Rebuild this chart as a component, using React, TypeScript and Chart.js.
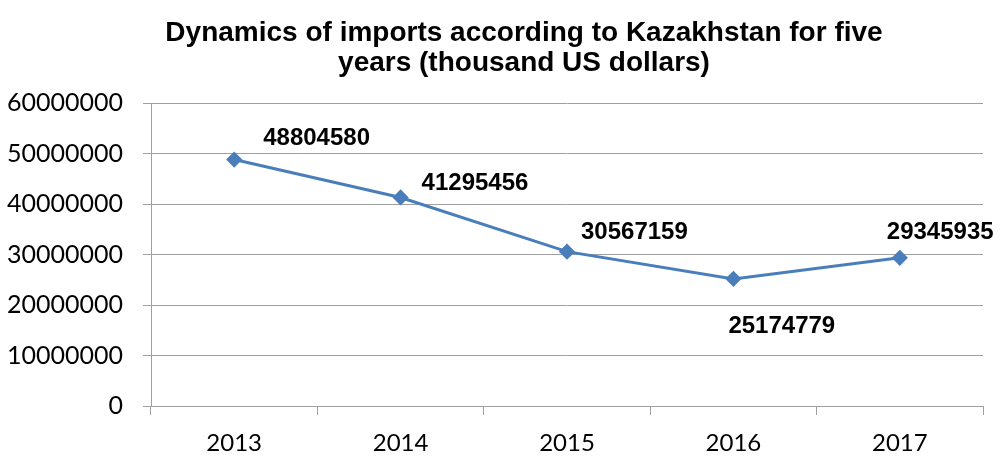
import React, { useEffect, useRef } from "react";
import { Chart, registerables } from "chart.js";

Chart.register(...registerables);

const titleLines = ["Dynamics of imports according to Kazakhstan for five", "years (thousand US dollars)"];
const years = ["2013", "2014", "2015", "2016", "2017"];
const imports = [48804580, 41295456, 30567159, 25174779, 29345935];
const yTicks = [0, 10000000, 20000000, 30000000, 40000000, 50000000, 60000000];

// label placement relative to each point (style, not data)
const labelOffsets: [number, number][] = [
  [29, -21],
  [21, -14],
  [14, -19],
  [-5, 48],
  [-13, -25],
];

const TICK_FONT = "Lato";
const BOLD_FONT = "'Liberation Sans', Arial, sans-serif";

export default function App() {
  const ref = useRef<HTMLCanvasElement | null>(null);

  useEffect(() => {
    const canvas = ref.current;
    if (!canvas) return;

    const titlePlugin = {
      id: "customTitle",
      afterDraw(chart: any) {
        const ctx = chart.ctx;
        ctx.save();
        ctx.fillStyle = "#000";
        ctx.font = `bold 28px ${BOLD_FONT}`;
        ctx.textAlign = "center";
        ctx.textBaseline = "middle";
        ctx.fillText(titleLines[0], 524, 33);
        ctx.fillText(titleLines[1], 524, 63);
        ctx.restore();
      },
    };

    const labelPlugin = {
      id: "pointLabels",
      afterDatasetsDraw(chart: any) {
        const ctx = chart.ctx;
        const meta = chart.getDatasetMeta(0);
        ctx.save();
        ctx.fillStyle = "#000";
        ctx.font = `bold 24px ${BOLD_FONT}`;
        ctx.textAlign = "left";
        ctx.textBaseline = "middle";
        meta.data.forEach((pt: any, i: number) => {
          const [dx, dy] = labelOffsets[i];
          ctx.fillText(String(imports[i]), pt.x + dx, pt.y + dy);
        });
        ctx.restore();
      },
    };

    const chart = new Chart(canvas, {
      type: "line",
      data: {
        labels: years,
        datasets: [
          {
            data: imports,
            borderColor: "#4a7ebb",
            backgroundColor: "#4a7ebb",
            borderWidth: 3,
            pointStyle: "rectRot",
            pointRadius: 6,
            pointHoverRadius: 6,
            tension: 0,
            fill: false,
          },
        ],
      },
      options: {
        responsive: false,
        animation: false,
        devicePixelRatio: 1,
        layout: { padding: { top: 103, right: 17, left: 0, bottom: 0 } },
        plugins: {
          legend: { display: false },
          title: { display: false },
          tooltip: { enabled: false },
        },
        scales: {
          x: {
            type: "category",
            offset: true,
            grid: {
              offset: true,
              drawOnChartArea: false,
              drawTicks: true,
              tickLength: 9,
              color: "#a0a0a0",
            },
            border: { display: true, color: "#a0a0a0", width: 1 },
            ticks: {
              color: "#000",
              font: { family: TICK_FONT, size: 24 },
              padding: 14,
              maxRotation: 0,
            },
            afterFit(scale: any) {
              scale.height = 63;
            },
          },
          y: {
            min: 0,
            max: 60000000,
            afterBuildTicks(scale: any) {
              scale.ticks = yTicks.map((v) => ({ value: v }));
            },
            grid: {
              color: "#a0a0a0",
              lineWidth: 1,
              drawTicks: true,
              tickLength: 8,
            },
            border: { display: true, color: "#a0a0a0", width: 1 },
            ticks: {
              color: "#000",
              font: { family: TICK_FONT, size: 25 },
              padding: 20,
              callback: (v: any) => String(v),
            },
            afterFit(scale: any) {
              scale.width = 151;
            },
          },
        },
      },
      plugins: [titlePlugin, labelPlugin],
    } as any);

    return () => chart.destroy();
  }, []);

  return (
    <div style={{ position: "fixed", left: 0, top: 0, width: 1000, height: 469, background: "#fff" }}>
      <canvas ref={ref} width={1000} height={469} style={{ width: 1000, height: 469 }} />
    </div>
  );
}
